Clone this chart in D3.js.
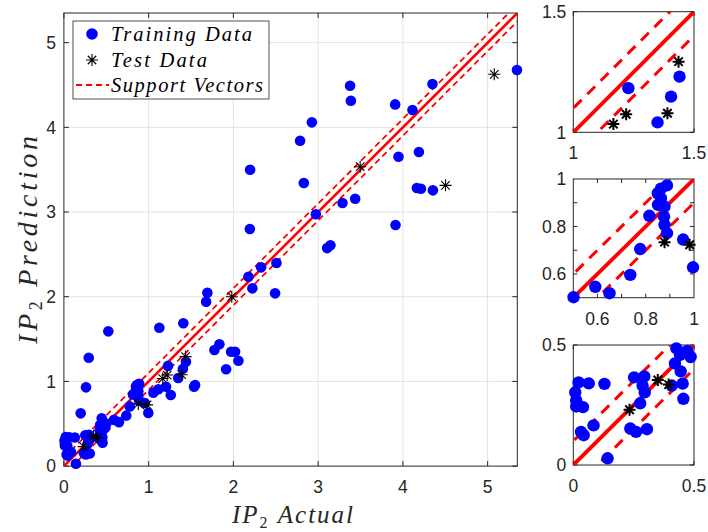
<!DOCTYPE html>
<html><head><meta charset="utf-8">
<script src="https://cdn.jsdelivr.net/npm/d3@7"></script>
<style>body{margin:0;background:#fff}svg{display:block}</style>
</head><body>
<svg id="c" width="708" height="532"></svg>
<script>
// ---- data ----
const trainX = [5.346,4.349,3.377,3.386,3.909,4.113,2.926,2.787,2.197,2.831,3.948,4.189,4.165,4.213,4.354,3.287,3.437,2.973,2.194,3.913,3.106,3.145,2.327,2.508,2.177,2.224,2.492,1.693,1.678,1.126,1.409,0.524,0.293,0.261,0.198,1.835,1.776,1.973,2.020,2.059,1.914,1.536,1.548,1.205,1.115,1.056,1.261,0.446,
  1.228,1.349,1.405,1.440,
  0.501,0.591,0.650,0.736,0.777,0.815,0.888,0.863,0.850,0.863,0.851,0.878,0.876,0.878,0.888,0.955,0.996,
  0.022,0.064,0.129,0.008,0.012,0.012,0.040,0.032,0.043,0.084,0.142,0.236,0.260,0.305,0.277,0.252,0.294,0.287,0.296,0.408,0.453,0.456,0.427,0.442,0.472,0.486,0.421,0.445];
const trainY = [4.677,4.511,4.491,4.314,4.271,4.204,4.059,3.842,3.499,3.342,3.653,3.708,3.283,3.275,3.256,3.106,3.157,2.973,2.799,2.846,2.574,2.607,2.347,2.398,2.236,2.099,2.040,2.047,1.941,1.634,1.686,1.591,1.280,0.930,0.623,1.438,1.371,1.351,1.351,1.244,1.143,0.937,0.957,0.937,0.907,0.867,0.839,0.564,
  1.183,1.041,1.148,1.231,
  0.502,0.546,0.519,0.596,0.705,0.845,0.973,0.959,0.940,0.919,0.891,0.884,0.842,0.807,0.772,0.745,0.628,
  0.344,0.340,0.338,0.303,0.269,0.244,0.241,0.138,0.124,0.165,0.028,0.152,0.138,0.149,0.257,0.365,0.369,0.331,0.303,0.331,0.339,0.276,0.486,0.459,0.475,0.450,0.423,0.390];
const testX = [0.233,0.350,0.395,0.878,0.982,1.219,1.166,1.390,1.436,1.981,3.496,4.503,5.078];
const testY = [0.230,0.354,0.335,0.734,0.723,1.075,1.034,1.079,1.293,2.000,3.535,3.315,4.626];
const epsilon = 0.1;
const mainTicks = [0,1,2,3,4,5];
const legendLabels = ["Training Data","Test Data","Support Vectors"];
const insets = [
  {dom:[1,1.5], ticks:[1,1.5], labels:[1,1.5]},
  {dom:[0.5,1], ticks:[0.6,0.7,0.8,0.9], labels:[0.6,0.8,1]},
  {dom:[0,0.5], ticks:[0,0.5], labels:[0,0.5]}
];

const train = trainX.map((x,i)=>({x, y:trainY[i]}));
const test = testX.map((x,i)=>({x, y:testY[i]}));

const svg = d3.select("#c");
const axisCol = "#262626";
const tickFont = "'Liberation Sans', Arial, sans-serif";
const serif = "'Liberation Serif', 'Times New Roman', serif";

function starPath(s){
  const d = s*0.7071;
  return `M${-s},0L${s},0M0,${-s}L0,${s}M${-d},${-d}L${d},${d}M${-d},${d}L${d},${-d}`;
}

function panel(g, x, y, opt){
  const [x0,x1] = x.range(), [y0,y1] = y.range();
  const id = "clip"+opt.id;
  svg.append("clipPath").attr("id",id).append("rect")
    .attr("x",x0).attr("y",y1).attr("width",x1-x0).attr("height",y0-y1);
  g.append("rect").attr("x",x0).attr("y",y1).attr("width",x1-x0).attr("height",y0-y1).attr("fill","#fff");
  if (opt.grid){
    g.append("g").selectAll("line").data(opt.gridVals.filter(v=>v>x.domain()[0]&&v<x.domain()[1])).join("line")
      .attr("x1",d=>x(d)).attr("x2",d=>x(d)).attr("y1",y0).attr("y2",y1).attr("stroke","#e3e3e3").attr("stroke-width",1);
    g.append("g").selectAll("line").data(opt.gridVals.filter(v=>v>y.domain()[0]&&v<y.domain()[1])).join("line")
      .attr("y1",d=>y(d)).attr("y2",d=>y(d)).attr("x1",x0).attr("x2",x1).attr("stroke","#e3e3e3").attr("stroke-width",1);
  }
  g.append("rect").attr("x",x0).attr("y",y1).attr("width",x1-x0).attr("height",y0-y1)
    .attr("fill","none").attr("stroke",axisCol).attr("stroke-width",1);
  const tl = opt.tickLen;
  const tk = g.append("g").attr("stroke",axisCol).attr("stroke-width",1);
  opt.ticks.forEach(v=>{
    if (v>=x.domain()[0] && v<=x.domain()[1]){
      tk.append("line").attr("x1",x(v)).attr("x2",x(v)).attr("y1",y0).attr("y2",y0-tl);
      tk.append("line").attr("x1",x(v)).attr("x2",x(v)).attr("y1",y1).attr("y2",y1+tl);
    }
    if (v>=y.domain()[0] && v<=y.domain()[1]){
      tk.append("line").attr("y1",y(v)).attr("y2",y(v)).attr("x1",x0).attr("x2",x0+tl);
      tk.append("line").attr("y1",y(v)).attr("y2",y(v)).attr("x1",x1).attr("x2",x1-tl);
    }
  });
  const pc = g.append("g").attr("clip-path",`url(#${id})`);
  const [dmin,dmax] = x.domain();
  const line = d3.line().x(d=>x(d[0])).y(d=>y(d[1]));
  const a = dmin-1, b = dmax+1;
  pc.append("path").attr("d",line([[a,a],[b,b]])).attr("stroke","#ff0000").attr("stroke-width",opt.lw).attr("fill","none");
  [epsilon,-epsilon].forEach(e=>{
    pc.append("path").attr("d",line([[a,a+e],[b,b+e]])).attr("stroke","#ff0000")
      .attr("stroke-width",opt.dlw).attr("stroke-dasharray",opt.dash).attr("fill","none");
  });
  const inside = d => d.x>=x.domain()[0]-1e-9 && d.x<=x.domain()[1]+1e-9 && d.y>=y.domain()[0]-1e-9 && d.y<=y.domain()[1]+1e-9;
  g.append("g").selectAll("circle").data(train.filter(inside)).join("circle")
    .attr("cx",d=>x(d.x)).attr("cy",d=>y(d.y)).attr("r",opt.r).attr("fill","#0000ff");
  g.append("g").selectAll("path").data(test.filter(inside)).join("path")
    .attr("transform",d=>`translate(${x(d.x)},${y(d.y)})`).attr("d",starPath(opt.s))
    .attr("stroke","#000").attr("stroke-width",opt.sw).attr("fill","none");
  g.append("g").selectAll("text").data(opt.labels).join("text")
    .attr("x",d=>x(d)).attr("y",y0+opt.xlabOff).attr("text-anchor","middle")
    .attr("font-family",tickFont).attr("font-size",opt.fs).attr("fill",axisCol).text(d=>d);
  g.append("g").selectAll("text").data(opt.labels).join("text")
    .attr("x",x0-opt.ylabOff).attr("y",d=>y(d)).attr("dy","0.36em").attr("text-anchor","end")
    .attr("font-family",tickFont).attr("font-size",opt.fs).attr("fill",axisCol).text(d=>d);
}

// main panel
const mx = d3.scaleLinear().domain([0,5.35]).range([63.9,517.3]);
const my = d3.scaleLinear().domain([0,5.35]).range([466.1,13]);
panel(svg.append("g"), mx, my, {id:"m", grid:true, gridVals:mainTicks, lw:2.6, dlw:1.8, dash:"6,4",
  r:5.3, s:6, sw:1.1, ticks:mainTicks, labels:mainTicks, tickLen:5, fs:17.5, xlabOff:27, ylabOff:8});

// insets
const insetTops = [[132.3,11.7],[297.7,179],[465,345]];
insets.forEach((ins,i)=>{
  const ix = d3.scaleLinear().domain(ins.dom).range([573.3,694]);
  const iy = d3.scaleLinear().domain(ins.dom).range(insetTops[i]);
  panel(svg.append("g"), ix, iy, {id:"i"+i, grid:false, lw:3.8, dlw:3, dash:"11,8",
    r:6.2, s:6, sw:2, ticks:ins.ticks, labels:ins.labels, tickLen:4, fs:17.5, xlabOff:27, ylabOff:7});
});

// axis titles
function ipLabel(sel, word, len, fs){
  sel.attr("font-family",serif).attr("font-style","italic").attr("font-size",fs).attr("fill",axisCol)
    .attr("textLength",len).attr("lengthAdjust","spacing");
  sel.append("tspan").text("IP");
  sel.append("tspan").attr("font-size",fs*0.64).attr("dy",5).attr("font-style","normal").text("2");
  sel.append("tspan").attr("dy",-5).text("\u00a0"+word);
}
ipLabel(svg.append("text").attr("x",232).attr("y",523), "Actual", 121, 25);
ipLabel(svg.append("text").attr("transform","translate(37,344) rotate(-90)"), "Prediction", 208, 28);

// legend
const lg = svg.append("g");
lg.append("rect").attr("x",73).attr("y",21).attr("width",196).attr("height",78)
  .attr("fill","#fff").attr("stroke",axisCol).attr("stroke-width",0.8);
const rows = [34,60,85];
const legendLens = [141,96,152];
lg.append("circle").attr("cx",92).attr("cy",rows[0]).attr("r",5.8).attr("fill","#0000ff");
lg.append("path").attr("transform",`translate(92,${rows[1]})`).attr("d",starPath(6)).attr("stroke","#000").attr("stroke-width",1.1);
lg.append("line").attr("x1",76).attr("x2",109).attr("y1",rows[2]).attr("y2",rows[2])
  .attr("stroke","#ff0000").attr("stroke-width",1.8).attr("stroke-dasharray","6,4");
legendLabels.forEach((t,i)=>{
  lg.append("text").attr("x",111).attr("y",rows[i]).attr("dy","0.33em")
    .attr("font-family",serif).attr("font-style","italic").attr("font-size",20.5).attr("fill","#000")
    .attr("textLength",legendLens[i]).attr("lengthAdjust","spacing").text(t);
});
</script>
</body></html>
